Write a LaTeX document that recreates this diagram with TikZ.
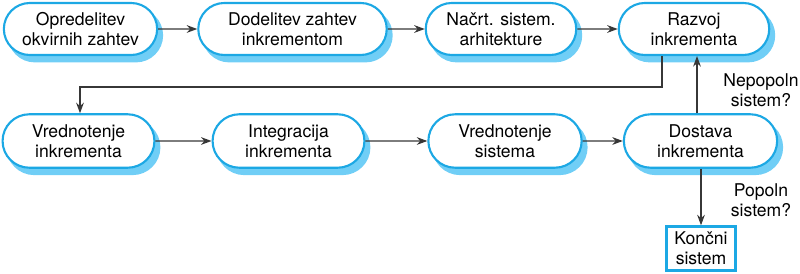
\documentclass[tikz,border=0pt]{standalone}
\usepackage{fontspec}
\setmainfont{TeX Gyre Heros}
\usetikzlibrary{shapes.misc,arrows.meta}

\definecolor{boxline}{RGB}{28,168,228}
\definecolor{boxshade}{RGB}{112,206,246}
\definecolor{arrowgray}{RGB}{55,55,55}

\tikzset{
  phase/.style={rounded rectangle, draw=boxline, line width=1.5pt, fill=white,
    minimum height=37pt, inner sep=0pt, align=center,
    preaction={fill=boxshade, draw=boxshade, transform canvas={xshift=3.5pt, yshift=-4.5pt}}},
  endbox/.style={rectangle, draw=boxline, line width=2pt, fill=white,
    minimum width=49pt, minimum height=31pt, inner sep=0pt, align=center},
  arr/.style={draw=arrowgray, line width=0.8pt, -{Stealth[length=7.5pt,width=5.5pt]}},
}

\begin{document}
\begin{tikzpicture}[x=0.025cm,y=-0.025cm,font=\fontsize{12.5}{14.2}\selectfont]

\useasboundingbox (0,0) rectangle (800,274);

% first row
\node[phase, minimum width=109pt] (opredelitev) at (80.5,29) {Opredelitev\\okvirnih zahtev};
\node[phase, minimum width=134pt] (dodelitev) at (292.5,29) {Dodelitev zahtev\\inkrementom};
\node[phase, minimum width=107pt] (nacrt) at (501,29) {Načrt. sistem.\\arhitekture};
\node[phase, minimum width=107pt] (razvoj) at (694,29) {Razvoj\\inkrementa};

% second row
\node[phase, minimum width=108pt, minimum height=38pt] (vrednotenjeinkr) at (78.5,141) {Vrednotenje\\inkrementa};
\node[phase, minimum width=108pt, minimum height=38pt] (integracija) at (288.5,141) {Integracija\\inkrementa};
\node[phase, minimum width=109pt, minimum height=38pt] (vrednotenjesis) at (505,141) {Vrednotenje\\sistema};
\node[phase, minimum width=109pt, minimum height=38pt] (dostava) at (700.5,141) {Dostava\\inkrementa};

\node[endbox] (koncni) at (701,248.5) {Končni\\sistem};

\coordinate (povratek) at (662,87);
\coordinate (spust) at (80,87);
\coordinate (nepopoln) at (697,0);

\node[align=center, inner sep=0pt] (nepopolnlab) at (761,90) {Nepopoln\\sistem?};
\node[align=center, inner sep=0pt] (popolnlab) at (761,200) {Popoln\\sistem?};

\foreach \from/\to in {opredelitev/dodelitev, dodelitev/nacrt, nacrt/razvoj,
  vrednotenjeinkr/integracija, integracija/vrednotenjesis, vrednotenjesis/dostava}
	\draw[arr] (\from) -- (\to);

\draw[arr] (razvoj.south -| povratek) -- (povratek) -- (spust) -- (vrednotenjeinkr.north -| spust);
\draw[arr] (dostava.north -| nepopoln) -- (razvoj.south -| nepopoln);
\draw[arr] (dostava.south -| koncni) -- (koncni.north);

\end{tikzpicture}
\end{document}
